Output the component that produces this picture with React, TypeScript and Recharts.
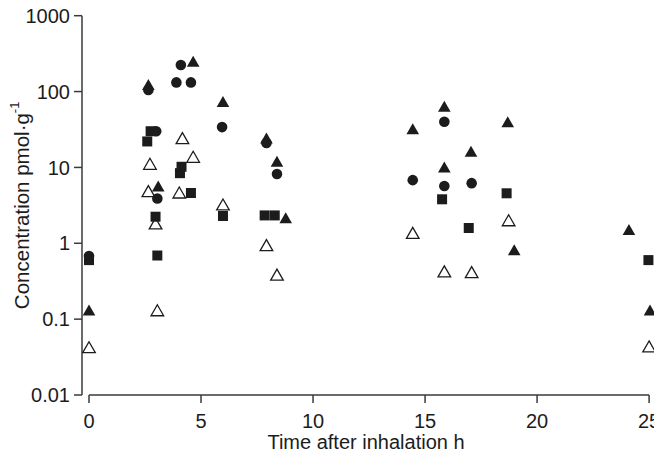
import React from "react";
import { ScatterChart, Scatter, XAxis, YAxis, ReferenceLine } from "recharts";

const xTicks = [0, 5, 10, 15, 20, 25];
const yTicks = [0.01, 0.1, 1, 10, 100, 1000];

const filledCircles = [
  { t: 0, c: 0.68 }, { t: 2.65, c: 105 }, { t: 3.0, c: 30 }, { t: 3.05, c: 3.9 },
  { t: 3.9, c: 132 }, { t: 4.1, c: 224 }, { t: 4.55, c: 132 }, { t: 5.94, c: 34 },
  { t: 7.92, c: 21 }, { t: 8.39, c: 8.2 }, { t: 14.45, c: 6.8 }, { t: 15.86, c: 40 },
  { t: 15.86, c: 5.7 }, { t: 17.08, c: 6.2 },
];

const filledSquares = [
  { t: 0, c: 0.6 }, { t: 2.6, c: 22 }, { t: 2.75, c: 30 }, { t: 2.97, c: 2.24 },
  { t: 3.05, c: 0.69 }, { t: 4.06, c: 8.4 }, { t: 4.13, c: 10.2 }, { t: 4.55, c: 4.6 },
  { t: 5.98, c: 2.29 }, { t: 7.84, c: 2.33 }, { t: 8.29, c: 2.33 }, { t: 15.76, c: 3.8 },
  { t: 16.95, c: 1.59 }, { t: 18.64, c: 4.56 }, { t: 24.97, c: 0.6 },
];

const filledTriangles = [
  { t: 0, c: 0.13 }, { t: 2.65, c: 122 }, { t: 3.09, c: 5.6 }, { t: 4.65, c: 248 },
  { t: 5.98, c: 73 }, { t: 7.92, c: 24 }, { t: 8.39, c: 11.9 }, { t: 8.78, c: 2.13 },
  { t: 14.45, c: 31.8 }, { t: 15.86, c: 63 }, { t: 15.86, c: 10 }, { t: 17.05, c: 16.1 },
  { t: 18.69, c: 39.4 }, { t: 18.98, c: 0.81 }, { t: 24.1, c: 1.5 }, { t: 25.04, c: 0.13 },
];

const openTriangles = [
  { t: 0, c: 0.042 }, { t: 2.72, c: 11 }, { t: 2.65, c: 4.8 }, { t: 2.97, c: 1.8 },
  { t: 3.05, c: 0.129 }, { t: 4.17, c: 24 }, { t: 4.65, c: 13.6 }, { t: 4.03, c: 4.6 },
  { t: 5.98, c: 3.2 }, { t: 7.92, c: 0.93 }, { t: 8.39, c: 0.38 }, { t: 14.45, c: 1.35 },
  { t: 15.86, c: 0.42 }, { t: 17.08, c: 0.41 }, { t: 18.73, c: 1.98 }, { t: 25, c: 0.043 },
];

const INK = "#1c1c1c";
const AXIS = "#3a3a3a";
const FONT = "'Liberation Sans', Arial, sans-serif";

const CircleShape = (p: any) => <circle cx={p.cx} cy={p.cy} r={5.3} fill={INK} />;
const SquareShape = (p: any) => (
  <rect x={p.cx - 5} y={p.cy - 5} width={10} height={10} fill={INK} />
);
const triPath = (cx: number, cy: number) =>
  `M${cx},${cy - 6} L${cx + 6.3},${cy + 5} L${cx - 6.3},${cy + 5} Z`;
const TriShape = (p: any) => <path d={triPath(p.cx, p.cy)} fill={INK} />;
const OpenTriShape = (p: any) => (
  <path d={triPath(p.cx, p.cy)} fill="#fff" stroke={INK} strokeWidth={1.3} />
);

const fmt = (v: number) => String(v);

const YLabel = (props: any) => {
  const vb = props.viewBox;
  const cx = 14;
  const cy = vb.y + vb.height / 2;
  return (
    <text
      x={cx}
      y={cy}
      transform={`rotate(-90 ${cx} ${cy})`}
      textAnchor="middle"
      dominantBaseline="central"
      fontFamily={FONT}
      fontSize={20.5}
      fill={INK}
    >
      Concentration pmol·g
      <tspan dy={-8} fontSize={13}>-1</tspan>
    </text>
  );
};

export default function App() {
  return (
    <div style={{ width: 654, height: 446, overflow: "visible" }}>
      <style>{`.recharts-wrapper, .recharts-surface { overflow: visible !important; }`}</style>
      <ScatterChart
        width={654}
        height={446}
        margin={{ top: 7.7, right: 12, bottom: 14, left: 14 }}
        style={{ overflow: "visible" }}
      >
        <XAxis
          type="number"
          dataKey="t"
          domain={[0, 25]}
          ticks={xTicks}
          interval={0}
          padding={{ left: 7, right: 0 }}
          axisLine={false}
          tickLine={{ stroke: AXIS, strokeWidth: 1.5 }}
          tickSize={8}
          tickMargin={11}
          height={45}
          tick={{ fontFamily: FONT, fontSize: 20, fill: INK }}
          label={{
            value: "Time after inhalation h",
            position: "insideBottom",
            offset: -9,
            style: { fontFamily: FONT, fontSize: 20, fill: INK },
          }}
        />
        <YAxis
          type="number"
          dataKey="c"
          scale="log"
          domain={[0.01, 1000]}
          ticks={yTicks}
          interval={0}
          tickFormatter={fmt}
          width={60}
          axisLine={{ stroke: AXIS, strokeWidth: 1.5 }}
          tickLine={{ stroke: AXIS, strokeWidth: 1.5 }}
          tickSize={8}
          tickMargin={4}
          tick={{ fontFamily: FONT, fontSize: 20, fill: INK }}
          label={<YLabel />}
        />
        <ReferenceLine
          segment={[{ x: 0, y: 0.01 }, { x: 25, y: 0.01 }]}
          stroke={AXIS}
          strokeWidth={1.5}
          ifOverflow="visible"
        />
        <Scatter data={openTriangles} shape={OpenTriShape} isAnimationActive={false} />
        <Scatter data={filledSquares} shape={SquareShape} isAnimationActive={false} />
        <Scatter data={filledCircles} shape={CircleShape} isAnimationActive={false} />
        <Scatter data={filledTriangles} shape={TriShape} isAnimationActive={false} />
      </ScatterChart>
    </div>
  );
}
